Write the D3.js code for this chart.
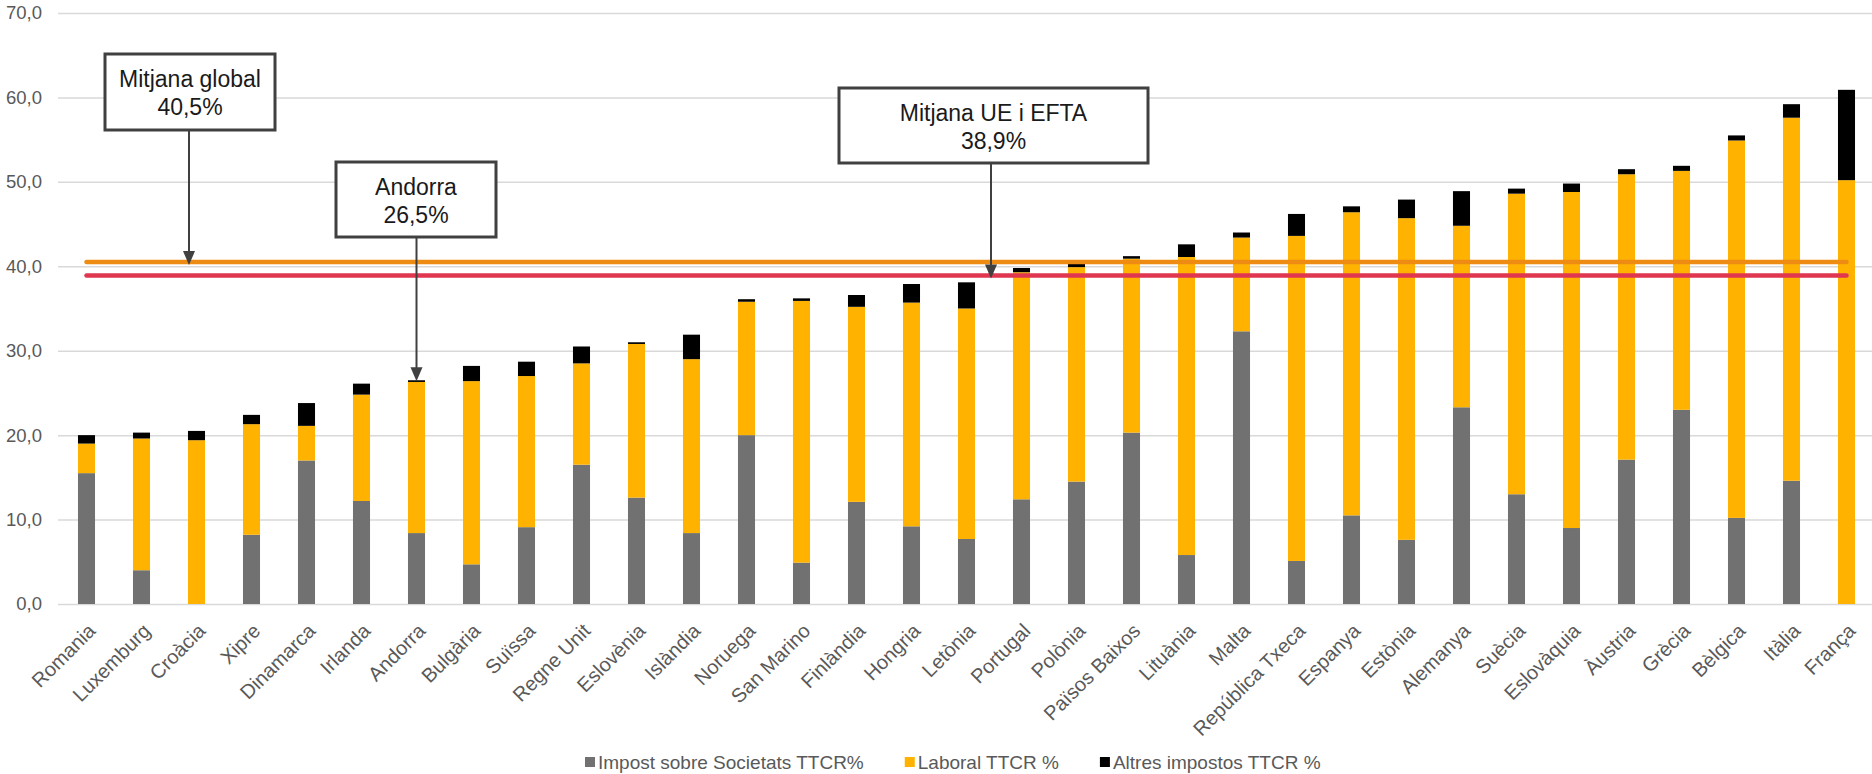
<!DOCTYPE html>
<html>
<head>
<meta charset="utf-8">
<script src="https://cdn.jsdelivr.net/npm/d3@7"></script>
<style>
  body { margin: 0; background: #fff; }
  svg { display: block; font-family: "Liberation Sans", Arial, sans-serif; }
</style>
</head>
<body>
<svg id="chart"></svg>
<script>
// countries, sorted by total tax rate
const countries = ['Romania', 'Luxemburg', 'Croàcia', 'Xipre', 'Dinamarca', 'Irlanda', 'Andorra',
  'Bulgària', 'Suïssa', 'Regne Unit', 'Eslovènia', 'Islàndia', 'Noruega', 'San Marino',
  'Finlàndia', 'Hongria', 'Letònia', 'Portugal', 'Polònia', 'Països Baixos', 'Lituània',
  'Malta', 'República Txeca', 'Espanya', 'Estònia', 'Alemanya', 'Suècia', 'Eslovàquia',
  'Àustria', 'Grècia', 'Bèlgica', 'Itàlia', 'França'];

const impost = [15.5, 4.0, 0, 8.2, 17.0, 12.2, 8.4, 4.7, 9.1, 16.5, 12.6, 8.4, 20.0, 4.9,
  12.1, 9.2, 7.7, 12.4, 14.5, 20.3, 5.8, 32.3, 5.1, 10.5, 7.6, 23.3, 13.0, 9.0,
  17.1, 23.0, 10.2, 14.6, 0];
const laboral = [3.5, 15.6, 19.4, 13.1, 4.1, 12.6, 17.9, 21.7, 17.9, 12.0, 18.2, 20.6, 15.8, 31.0,
  23.1, 26.5, 27.3, 26.9, 25.4, 20.6, 35.3, 11.1, 38.5, 35.9, 38.1, 21.5, 35.6, 39.8,
  33.8, 28.3, 44.7, 43.0, 50.2];
const altres = [1.0, 0.7, 1.1, 1.1, 2.7, 1.3, 0.2, 1.8, 1.7, 2.0, 0.2, 2.9, 0.3, 0.3,
  1.4, 2.2, 3.1, 0.5, 0.4, 0.3, 1.5, 0.6, 2.6, 0.7, 2.2, 4.1, 0.6, 1.0,
  0.6, 0.6, 0.6, 1.6, 10.7];

const seriesNames = ['Impost sobre Societats TTCR%', 'Laboral TTCR %', 'Altres impostos TTCR %'];
const yTicks = [0, 10, 20, 30, 40, 50, 60, 70];

const mitjanaGlobal = 40.5;
const mitjanaUE = 38.9;
const andorraTotal = 26.5;

const W = 1872, H = 774;
const svg = d3.select('#chart').attr('width', W).attr('height', H);

const x = d3.scaleBand()
  .domain(countries)
  .range([59, 1874])
  .paddingInner(0.69)
  .paddingOuter(0.345);

const y = d3.scaleLinear().domain([0, 70]).range([604, 13]);

const color = d3.scaleOrdinal()
  .domain(seriesNames)
  .range(['#717171', '#FFB300', '#000000']);

const fmt = v => d3.format('.1f')(v).replace('.', ',');

// grid + y labels
const yAxis = svg.append('g')
  .attr('transform', 'translate(58,0)')
  .call(d3.axisLeft(y).tickValues(yTicks).tickSize(-(W - 58)).tickFormat(fmt).tickPadding(16));
yAxis.select('.domain').remove();
yAxis.selectAll('.tick line').attr('stroke', '#d9d9d9').attr('stroke-width', 1.5);
yAxis.selectAll('.tick text')
  .attr('fill', '#595959')
  .style('font-size', '18.5px');

// stacked bars
const rows = countries.map((c, i) => ({
  country: c,
  [seriesNames[0]]: impost[i],
  [seriesNames[1]]: laboral[i],
  [seriesNames[2]]: altres[i]
}));
const stacked = d3.stack().keys(seriesNames)(rows);

svg.append('g').selectAll('g')
  .data(stacked)
  .enter().append('g')
  .attr('fill', d => color(d.key))
  .selectAll('rect')
  .data(d => d)
  .enter().append('rect')
  .attr('x', d => x(d.data.country))
  .attr('width', x.bandwidth())
  .attr('y', d => y(d[1]))
  .attr('height', d => y(d[0]) - y(d[1]));

// x labels
svg.append('g').selectAll('text')
  .data(countries)
  .enter().append('text')
  .attr('transform', d => `translate(${x(d) + x.bandwidth() / 2},622) rotate(-45)`)
  .attr('text-anchor', 'end')
  .attr('dy', '0.72em')
  .attr('fill', '#595959')
  .style('font-size', '20px')
  .text(d => d);

// average lines
const x0 = x(countries[0]) + x.bandwidth() / 2;
const x1 = x(countries[countries.length - 1]) + x.bandwidth() / 2;
[[mitjanaGlobal, '#ED8B12'], [mitjanaUE, '#E0364F']].forEach(([v, c]) => {
  svg.append('line')
    .attr('x1', x0).attr('x2', x1)
    .attr('y1', y(v)).attr('y2', y(v))
    .attr('stroke', c)
    .attr('stroke-width', 4.5)
    .attr('stroke-linecap', 'round');
});

// annotation boxes with arrows
const notes = [
  { lines: ['Mitjana global', '40,5%'], box: [105, 54, 170, 76], ax: 189, value: mitjanaGlobal, off: 3 },
  { lines: ['Andorra', '26,5%'], box: [336, 162, 160, 75], ax: x('Andorra') + x.bandwidth() / 2, value: andorraTotal, off: 1 },
  { lines: ['Mitjana UE i EFTA', '38,9%'], box: [839, 88, 309, 75], ax: 991, value: mitjanaUE, off: 3 }
];

const ink = '#404040';
notes.forEach(n => {
  const [bx, by, bw, bh] = n.box;
  const tipY = y(n.value) + n.off;
  svg.append('line')
    .attr('x1', n.ax).attr('x2', n.ax)
    .attr('y1', by + bh).attr('y2', tipY - 12)
    .attr('stroke', ink).attr('stroke-width', 2);
  svg.append('path')
    .attr('d', `M${n.ax - 6},${tipY - 14} L${n.ax + 6},${tipY - 14} L${n.ax},${tipY} Z`)
    .attr('fill', ink);
  svg.append('rect')
    .attr('x', bx).attr('y', by).attr('width', bw).attr('height', bh)
    .attr('fill', '#fff').attr('stroke', ink).attr('stroke-width', 3);
  n.lines.forEach((t, k) => {
    svg.append('text')
      .attr('x', bx + bw / 2)
      .attr('y', by + 33 + k * 28)
      .attr('text-anchor', 'middle')
      .attr('fill', '#1a1a1a')
      .style('font-size', '23px')
      .text(t);
  });
});

// legend
const legend = svg.append('g').attr('transform', 'translate(585,762)');
let lx = 0;
seriesNames.forEach(s => {
  const g = legend.append('g').attr('transform', `translate(${lx},0)`);
  g.append('rect').attr('x', 0).attr('y', -5).attr('width', 10).attr('height', 10).attr('fill', color(s));
  const t = g.append('text')
    .attr('x', 13).attr('dy', '0.35em')
    .attr('fill', '#595959')
    .style('font-size', '19px')
    .text(s);
  lx += 13 + t.node().getComputedTextLength() + 41;
});
</script>
</body>
</html>
